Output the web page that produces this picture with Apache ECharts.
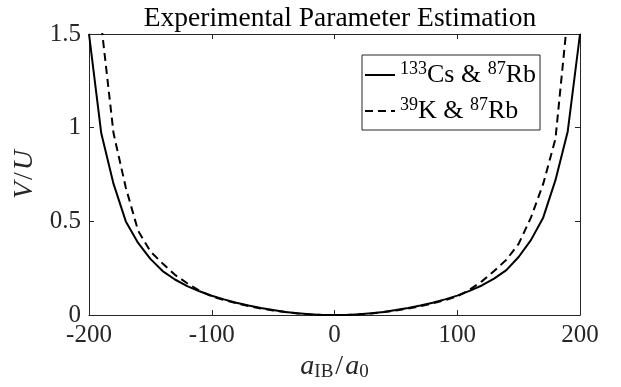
<!DOCTYPE html>
<html>
<head>
<meta charset="utf-8">
<script src="https://cdn.jsdelivr.net/npm/echarts@6/dist/echarts.min.js"></script>
<style>
  html, body { margin: 0; padding: 0; background: #fff; }
  #chart { width: 621px; height: 387px; }
</style>
</head>
<body>
<div id="chart"></div>
<script>
// scattering length a_IB / a_0
let xValues = [-200, -190, -180, -170, -160, -150, -140, -130, -120, -110, -100,
  -90, -80, -70, -60, -50, -40, -30, -20, -10, 0,
  10, 20, 30, 40, 50, 60, 70, 80, 90, 100,
  110, 120, 130, 140, 150, 160, 170, 180, 190, 200]
// 133Cs & 87Rb
let csRb = [1.5, 0.97, 0.70, 0.50, 0.385, 0.30, 0.235, 0.19, 0.155, 0.127, 0.103,
  0.084, 0.066, 0.051, 0.038, 0.027, 0.017, 0.010, 0.005, 0.001, 0,
  0.001, 0.005, 0.010, 0.017, 0.027, 0.038, 0.051, 0.066, 0.084, 0.104,
  0.129, 0.158, 0.195, 0.24, 0.31, 0.40, 0.52, 0.72, 0.98, 1.5]
// 39K & 87Rb
let kRb = [3.2, 1.55, 0.97, 0.68, 0.45, 0.34, 0.275, 0.215, 0.17, 0.13, 0.10,
  0.08, 0.063, 0.048, 0.035, 0.025, 0.016, 0.009, 0.004, 0.001, 0,
  0.001, 0.004, 0.009, 0.016, 0.025, 0.035, 0.048, 0.063, 0.08, 0.10,
  0.135, 0.18, 0.235, 0.295, 0.38, 0.52, 0.70, 0.94, 1.6, 3.2]
let yTicks = ['0', '0.5', '1', '1.5']
let xTicks = ['-200', '-100', '0', '100', '200']

let serif = '"Liberation Serif", "DejaVu Serif", serif'
let axisColor = '#262626'

function pairs(ys) {
  return xValues.map((x, i) => [x, ys[i]])
}

let sup = { fontFamily: serif, fontSize: 18, color: '#000', verticalAlign: 'top', lineHeight: 18 }
let txt = { fontFamily: serif, fontSize: 26, color: '#000', lineHeight: 30 }
let mathItalic = { fontFamily: serif, fontStyle: 'italic', fontSize: 28, color: '#262626', lineHeight: 30 }
let mathSlash = { fontFamily: serif, fontSize: 28, color: '#262626', lineHeight: 30, padding: [0, 2, 0, 2] }

let chart = echarts.init(document.getElementById('chart'))
chart.setOption({
  animation: false,
  backgroundColor: '#fff',
  title: {
    text: 'Experimental Parameter Estimation',
    left: 335,
    textAlign: 'center',
    top: 0,
    textStyle: { fontFamily: serif, fontSize: 27.5, fontWeight: 'normal', color: '#000' }
  },
  grid: { left: 89, right: 41, top: 34, bottom: 71 },
  legend: {
    orient: 'vertical',
    left: 362,
    top: 55,
    backgroundColor: '#fff',
    borderColor: axisColor,
    borderWidth: 1,
    borderRadius: 0,
    padding: [5, 4, 6, 2],
    itemGap: 8,
    itemWidth: 30,
    itemHeight: 14,
    itemStyle: { opacity: 0 },
    data: ['cs', 'k'],
    formatter: function(name) {
      if (name === 'cs') return '{s|133}{t|Cs & }{s|87}{t|Rb}'
      return '{s|39}{t|K & }{s|87}{t|Rb}'
    },
    textStyle: { rich: { s: sup, t: txt } }
  },
  xAxis: [
    {
      type: 'value',
      min: -200,
      max: 200,
      interval: 100,
      name: '{i|a}{b|IB}{n|/}{i|a}{b|0}',
      nameLocation: 'middle',
      nameGap: 36,
      nameTextStyle: {
        rich: {
          i: mathItalic,
          n: mathSlash,
          b: { fontFamily: serif, fontSize: 19, color: '#262626', verticalAlign: 'bottom', lineHeight: 22 }
        }
      },
      axisLine: { onZero: false, lineStyle: { color: axisColor, width: 1 } },
      axisTick: { inside: true, length: 5, lineStyle: { color: axisColor } },
      axisLabel: {
        fontFamily: serif, fontSize: 25, color: '#262626', margin: 8,
        formatter: v => xTicks[(v + 200) / 100]
      },
      splitLine: { show: false }
    },
    {
      type: 'value',
      position: 'top',
      min: -200,
      max: 200,
      interval: 100,
      axisLine: { show: true, onZero: false, lineStyle: { color: axisColor, width: 1 } },
      axisTick: { inside: true, length: 5, lineStyle: { color: axisColor } },
      axisLabel: { show: false },
      splitLine: { show: false }
    }
  ],
  yAxis: [
    {
      type: 'value',
      min: 0,
      max: 1.5,
      interval: 0.5,
      name: '{i|V}{n|/}{i|U}',
      nameLocation: 'middle',
      nameGap: 42,
      nameTextStyle: {
        rich: { i: mathItalic, n: mathSlash }
      },
      axisLine: { show: true, onZero: false, lineStyle: { color: axisColor, width: 1 } },
      axisTick: { show: true, inside: true, length: 5, lineStyle: { color: axisColor } },
      axisLabel: {
        fontFamily: serif, fontSize: 25, color: '#262626', margin: 8,
        formatter: v => yTicks[Math.round(v / 0.5)]
      },
      splitLine: { show: false }
    },
    {
      type: 'value',
      position: 'right',
      min: 0,
      max: 1.5,
      interval: 0.5,
      axisLine: { show: true, onZero: false, lineStyle: { color: axisColor, width: 1 } },
      axisTick: { show: true, inside: true, length: 5, lineStyle: { color: axisColor } },
      axisLabel: { show: false },
      splitLine: { show: false }
    }
  ],
  series: [
    {
      name: 'cs',
      type: 'line',
      data: pairs(csRb),
      symbol: 'none',
      clip: true,
      lineStyle: { color: '#000', width: 2, type: 'solid' },
      itemStyle: { color: '#000' }
    },
    {
      name: 'k',
      type: 'line',
      data: pairs(kRb),
      symbol: 'none',
      clip: true,
      lineStyle: { color: '#000', width: 2, type: [8, 5] },
      itemStyle: { color: '#000' }
    }
  ]
})
</script>
</body>
</html>
